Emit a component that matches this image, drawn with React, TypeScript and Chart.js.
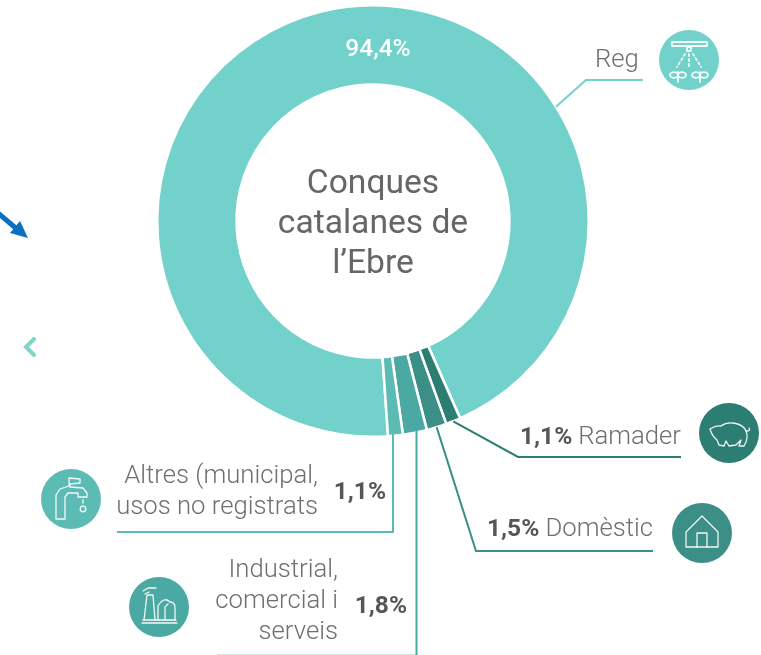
import React, { useEffect, useRef } from "react";
import { Chart, registerables } from "chart.js";

Chart.register(...registerables);

const categories = ["Reg", "Ramader", "Domèstic", "Industrial", "Altres"];
const shares = [94.4, 1.1, 1.5, 1.8, 1.1];
const sliceColors = ["#72d1cb", "#2c7d72", "#3b8f86", "#4ba9a3", "#5dbbb5"];
const centerLines = ["Conques", "catalanes de", "l’Ebre"];
const altresLines = ["Altres (municipal,", "usos no registrats"];
const industrialLines = ["Industrial,", "comercial i", "serveis"];

const TEXT = "#6f6f6f";
const BOLD = "#565656";
const fmt = (v: number) => v.toFixed(1).replace(".", ",") + "%";

type P = [number, number];
function poly(ctx: CanvasRenderingContext2D, pts: P[], close = false) {
  ctx.beginPath();
  pts.forEach(([x, y], i) => (i ? ctx.lineTo(x, y) : ctx.moveTo(x, y)));
  if (close) ctx.closePath();
  ctx.stroke();
}
function text(ctx: CanvasRenderingContext2D, s: string, x: number, y: number, font: string, color: string, align: CanvasTextAlign = "left") {
  ctx.font = font;
  ctx.fillStyle = color;
  ctx.textAlign = align;
  ctx.textBaseline = "alphabetic";
  ctx.fillText(s, x, y);
}
function disc(ctx: CanvasRenderingContext2D, x: number, y: number, color: string) {
  ctx.beginPath();
  ctx.arc(x, y, 30, 0, Math.PI * 2);
  ctx.fillStyle = color;
  ctx.fill();
  ctx.strokeStyle = "rgba(255,255,255,0.92)";
  ctx.lineWidth = 1.3;
  ctx.lineJoin = "round";
  ctx.lineCap = "round";
}

function iconReg(ctx: CanvasRenderingContext2D) {
  disc(ctx, 689, 60, sliceColors[0]);
  ctx.lineWidth = 1.8;
  poly(ctx, [[672, 42], [707, 42], [707, 46], [672, 46]], true);
  poly(ctx, [[687, 47], [691, 47], [691, 51], [687, 51]], true);
  ctx.setLineDash([2, 3]);
  poly(ctx, [[685, 54], [677, 67]]);
  poly(ctx, [[689, 54], [689, 68]]);
  poly(ctx, [[693, 54], [701, 67]]);
  ctx.setLineDash([]);
  [678, 700].forEach((x) => {
    poly(ctx, [[x, 72], [x, 82]]);
    ctx.beginPath();
    ctx.ellipse(x - 4, 75, 4, 2.8, 0, 0, Math.PI * 2);
    ctx.stroke();
    ctx.beginPath();
    ctx.ellipse(x + 4, 75, 4, 2.8, 0, 0, Math.PI * 2);
    ctx.stroke();
  });
}
function iconPig(ctx: CanvasRenderingContext2D) {
  disc(ctx, 729, 433, sliceColors[1]);
  ctx.beginPath();
  ctx.moveTo(710, 429);
  ctx.quadraticCurveTo(716, 425, 721, 426);
  ctx.bezierCurveTo(728, 421, 742, 422, 746, 431);
  ctx.quadraticCurveTo(749, 438, 744, 446);
  ctx.lineTo(739, 446);
  ctx.lineTo(741, 440);
  ctx.lineTo(736, 445);
  ctx.lineTo(729, 446);
  ctx.lineTo(726, 441);
  ctx.lineTo(724, 446);
  ctx.lineTo(719, 445);
  ctx.lineTo(717, 440);
  ctx.quadraticCurveTo(712, 436, 710, 429);
  ctx.stroke();
  ctx.beginPath();
  ctx.moveTo(746, 431);
  ctx.quadraticCurveTo(751, 431, 749, 428);
  ctx.stroke();
}
function iconHouse(ctx: CanvasRenderingContext2D) {
  disc(ctx, 702, 533, sliceColors[2]);
  poly(ctx, [[686, 547], [686, 532], [702, 516], [718, 532], [718, 547]], true);
  poly(ctx, [[697, 547], [697, 533], [707, 533], [707, 547]]);
}
function iconTap(ctx: CanvasRenderingContext2D) {
  disc(ctx, 71, 499, sliceColors[4]);
  poly(ctx, [[69, 478], [80, 479], [80, 483], [70, 484], [70, 487], [83, 488], [87, 493], [87, 497], [78, 497], [78, 493], [68, 493], [65, 497], [65, 519], [56, 519], [56, 495], [60, 489], [69, 486]], true);
  ctx.beginPath();
  ctx.arc(83, 509, 2.8, 0, Math.PI * 2);
  ctx.stroke();
  poly(ctx, [[83, 500], [83, 503]]);
}
function iconFactory(ctx: CanvasRenderingContext2D) {
  disc(ctx, 159, 607, sliceColors[3]);
  poly(ctx, [[142, 623], [177, 623]]);
  poly(ctx, [[143, 620], [176, 620]]);
  poly(ctx, [[144, 620], [147, 595], [153, 595], [155, 620]]);
  ctx.beginPath();
  ctx.moveTo(158, 620);
  ctx.lineTo(158, 606);
  ctx.quadraticCurveTo(164, 596, 170, 602);
  ctx.quadraticCurveTo(175, 602, 175, 608);
  ctx.lineTo(175, 620);
  ctx.stroke();
  poly(ctx, [[165, 620], [165, 607], [168, 604]]);
  poly(ctx, [[143, 591], [148, 588], [156, 588]]);
  poly(ctx, [[145, 594], [149, 592]]);
}

const overlay = {
  id: "overlay",
  afterDraw(chart: Chart) {
    const ctx = chart.ctx;
    const arcs = chart.getDatasetMeta(0).data as any[];
    const edge = (a: any, angle = (a.startAngle + a.endAngle) / 2): P => [a.x + a.outerRadius * Math.cos(angle), a.y + a.outerRadius * Math.sin(angle)];
    const [reg, ram, dom] = arcs;

    ctx.save();
    // leader lines
    ctx.lineWidth = 2;
    ctx.strokeStyle = sliceColors[0];
    poly(ctx, [edge(reg, (-32 * Math.PI) / 180), [586, 80], [643, 80]]);
    ctx.strokeStyle = sliceColors[1];
    poly(ctx, [edge(ram), [518, 457], [681, 457]]);
    ctx.strokeStyle = sliceColors[2];
    poly(ctx, [edge(dom), [476, 551], [653, 551]]);
    ctx.strokeStyle = sliceColors[3];
    poly(ctx, [[416.5, 430], [416.5, 656]]);
    poly(ctx, [[217, 655.8], [416.5, 655.8]]);
    ctx.strokeStyle = sliceColors[4];
    poly(ctx, [[393, 433], [393, 532], [117, 532]]);

    // centre and callout text
    const light = (px: number) => `300 ${px}px Roboto`;
    const strong = (px: number) => `700 ${px}px Roboto`;
    centerLines.forEach((s, i) => text(ctx, s, reg.x, 193 + i * 40, `400 33.6px Roboto`, "#666666", "center"));
    text(ctx, fmt(shares[0]), 378, 56, `500 24.5px Roboto`, "#ffffff", "center");
    text(ctx, categories[0], 595, 67, light(25.7), TEXT);
    text(ctx, fmt(shares[1]), 520, 444, strong(24.5), BOLD);
    text(ctx, categories[1], 681, 444, light(25.7), TEXT, "right");
    text(ctx, fmt(shares[2]), 487, 536, strong(24.5), BOLD);
    text(ctx, categories[2], 653, 536, light(25.7), TEXT, "right");
    altresLines.forEach((s, i) => text(ctx, s, 318, 483 + i * 31, light(25.7), TEXT, "right"));
    text(ctx, fmt(shares[4]), 386, 499, strong(24.5), BOLD, "right");
    industrialLines.forEach((s, i) => text(ctx, s, 338, 577 + i * 31, light(25.7), TEXT, "right"));
    text(ctx, fmt(shares[3]), 407, 613, strong(24.5), BOLD, "right");

    iconReg(ctx);
    iconPig(ctx);
    iconHouse(ctx);
    iconTap(ctx);
    iconFactory(ctx);

    // page furniture: blue arrow and teal chevron
    ctx.strokeStyle = "#0b6fc2";
    ctx.lineWidth = 5;
    ctx.lineCap = "butt";
    poly(ctx, [[-2, 213], [18, 230]]);
    ctx.fillStyle = "#0b6fc2";
    ctx.beginPath();
    ctx.moveTo(28, 238);
    ctx.lineTo(20, 221);
    ctx.lineTo(10, 233);
    ctx.closePath();
    ctx.fill();
    ctx.strokeStyle = "#7dd6c8";
    ctx.lineWidth = 4;
    ctx.lineCap = "round";
    ctx.lineJoin = "miter";
    poly(ctx, [[34, 339], [26, 347], [34, 355]]);
    ctx.restore();
  },
};

export default function App() {
  const ref = useRef<HTMLCanvasElement>(null);
  useEffect(() => {
    const chart = new Chart(ref.current!, {
      type: "doughnut",
      data: {
        labels: categories,
        datasets: [{ data: shares, backgroundColor: sliceColors, borderColor: "#ffffff", borderWidth: 2.5, borderAlign: "center" }],
      },
      options: {
        responsive: false,
        animation: false,
        rotation: 176,
        cutout: 136.5,
        layout: { padding: { left: 156, right: 171, top: 4, bottom: 217 } },
        plugins: { legend: { display: false }, tooltip: { enabled: false } },
      },
      plugins: [overlay],
    } as any);
    return () => chart.destroy();
  }, []);
  return (
    <canvas
      ref={ref}
      width={761}
      height={655}
      style={{ position: "fixed", left: 0, top: 0, width: 761, height: 655, display: "block", background: "#ffffff" }}
    />
  );
}
